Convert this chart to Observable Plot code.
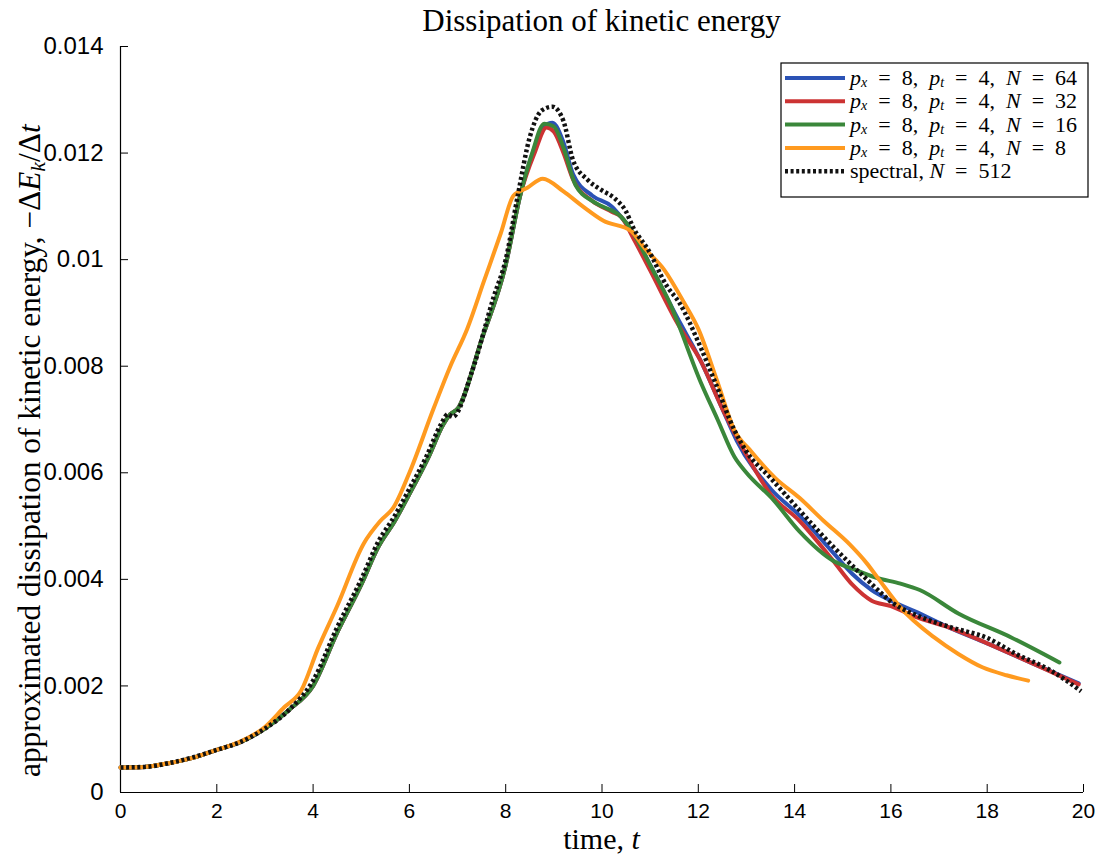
<!DOCTYPE html>
<html><head><meta charset="utf-8">
<script src="https://cdn.jsdelivr.net/npm/d3@7"></script>
<script src="https://cdn.jsdelivr.net/npm/@observablehq/plot@0.6"></script>
<style>body{margin:0;background:#fff} #chart{width:1101px;height:861px}</style>
</head><body><div id="chart"></div>
<script>
// ---- data ----
const xTicks = [0,2,4,6,8,10,12,14,16,18,20];
const yTicks = [0,0.002,0.004,0.006,0.008,0.01,0.012,0.014];
const yTickLabels = ["0","0.002","0.004","0.006","0.008","0.01","0.012","0.014"];

const seriesN = [64, 32, 16, 8];
const seriesColors = ["#2b52b5", "#cc3333", "#3a873a", "#ff9a1f"];
const spectralN = 512;

const t64 = [0,0.5,1,1.5,2,2.5,3,3.5,4,4.5,5,5.35,5.7,6.0,6.4,6.7,6.85,7.0,7.5,8.0,8.3,8.6,8.8,8.97,9.2,9.4,9.8,10.2,10.4,10.65,11.0,11.57,12.05,12.5,12.8,13.5,14.1,14.8,15.2,15.6,16.0,16.5,17.2,18.0,19.0,19.9];
const v64 = [0.00047,0.00048,0.00055,0.00065,0.0008,0.00095,0.0012,0.00155,0.002,0.003,0.0039,0.0046,0.0051,0.0056,0.0063,0.0069,0.0071,0.0072,0.0085,0.0099,0.0112,0.0121,0.0125,0.01257,0.0122,0.0116,0.0112,0.011,0.0108,0.0105,0.0099,0.0089,0.0081,0.0072,0.0066,0.0057,0.0052,0.0045,0.0041,0.0038,0.0036,0.0034,0.0031,0.0028,0.0024,0.00205];

const t32 = [0,0.5,1,1.5,2,2.5,3,3.5,4,4.5,5,5.35,5.7,6.0,6.4,6.7,6.85,7.0,7.5,8.0,8.3,8.6,8.85,9.0,9.2,9.4,9.8,10.2,10.4,10.65,11.0,11.57,12.05,12.5,12.9,13.5,14.1,14.8,15.2,15.6,16.0,16.5,17.2,18.0,19.0,19.9];
const v32 = [0.00047,0.00048,0.00055,0.00065,0.0008,0.00095,0.0012,0.00155,0.002,0.003,0.0039,0.0046,0.0051,0.0056,0.0063,0.0069,0.0071,0.0072,0.0085,0.0099,0.0112,0.012,0.01248,0.0124,0.012,0.0115,0.0111,0.0109,0.0108,0.0104,0.0098,0.0088,0.0081,0.0072,0.0065,0.0056,0.0051,0.00435,0.0039,0.0036,0.0035,0.0033,0.0031,0.0028,0.0024,0.00203];

const t16 = [0,0.5,1,1.5,2,2.5,3,3.5,4,4.5,5,5.35,5.7,6.0,6.4,6.7,6.85,7.0,7.5,8.0,8.3,8.55,8.8,9.0,9.2,9.45,9.8,10.0,10.4,10.65,11.0,11.4,12.05,12.4,12.75,13.0,13.55,14.1,14.8,15.2,15.7,16.2,16.6,17.4,18.5,19.5];
const v16 = [0.00047,0.00048,0.00055,0.00065,0.0008,0.00095,0.0012,0.00155,0.002,0.003,0.0039,0.0046,0.0051,0.0056,0.0063,0.0069,0.0071,0.0072,0.0085,0.0099,0.0112,0.012,0.01255,0.0125,0.0121,0.0114,0.0111,0.011,0.0108,0.0105,0.0099,0.0092,0.0077,0.007,0.0063,0.006,0.0055,0.0049,0.00435,0.0042,0.00403,0.00392,0.0038,0.00336,0.00291,0.00244];

const t8 = [0,0.5,1,1.5,2,2.5,3,3.4,3.75,4.1,4.5,5.05,5.4,5.67,6.0,6.5,6.85,7.2,7.55,7.9,8.16,8.45,8.77,9.2,9.6,10.03,10.6,10.9,11.3,11.7,12.0,12.4,12.75,13.1,13.6,14.1,14.6,15.15,15.5,15.75,16.2,16.9,17.4,17.9,18.4,18.85];
const v8 = [0.00047,0.00048,0.00055,0.00065,0.0008,0.00096,0.00123,0.0016,0.00191,0.0027,0.0035,0.00467,0.0051,0.00535,0.006,0.0072,0.008,0.0087,0.0096,0.0105,0.0112,0.01135,0.01152,0.01128,0.011,0.01073,0.01054,0.0102,0.0098,0.0092,0.0087,0.0077,0.0068,0.0064,0.0059,0.00553,0.0051,0.00465,0.0043,0.004,0.00347,0.00291,0.0026,0.00235,0.0022,0.0021];

const tS = [0,0.5,1,1.5,2,2.5,3,3.5,4,4.5,5,5.35,5.7,6.0,6.35,6.65,6.8,6.9,7.3,7.75,8.0,8.25,8.5,8.75,8.97,9.2,9.4,9.7,10.0,10.25,10.5,10.65,10.95,11.35,11.6,12.05,12.35,12.75,13.0,13.5,14.0,14.5,15.15,15.5,16.05,16.6,17.25,18.0,18.6,19.3,19.95];
const vS = [0.00047,0.00048,0.00055,0.00066,0.0008,0.00095,0.0012,0.00155,0.0021,0.0031,0.004,0.0047,0.0052,0.0057,0.0063,0.0069,0.0071,0.00705,0.0079,0.0093,0.01,0.0112,0.0123,0.0128,0.01287,0.0126,0.01186,0.0115,0.0113,0.01116,0.0109,0.0106,0.0102,0.0095,0.0092,0.00835,0.0077,0.0068,0.0064,0.0059,0.0054,0.0049,0.0043,0.004,0.00355,0.0033,0.0031,0.0029,0.0026,0.0023,0.0019];

// ---- build ----
const toRows = (ts, vs) => ts.map((t, i) => ({t, v: vs[i]}));
const series = [toRows(t64, v64), toRows(t32, v32), toRows(t16, v16), toRows(t8, v8)];
const spectral = toRows(tS, vS);

const W = 1101, H = 861, mL = 120, mR = 18, mT = 46, mB = 69;
const frameW = W - mL - mR, frameH = H - mT - mB;
const tickLen = 8;
const dotted = "3,2.6";

const svg = Plot.plot({
  width: W, height: H,
  marginLeft: mL, marginRight: mR, marginTop: mT, marginBottom: mB,
  style: {fontFamily: "'Liberation Sans', Arial, sans-serif", fontSize: "21px", background: "#fff", color: "#000"},
  x: {domain: [0, 20]},
  y: {domain: [0, 0.014]},
  marks: [
    Plot.axisX({ticks: xTicks, tickSize: 0, tickPadding: 11, label: null, fontSize: 21}),
    Plot.axisY({ticks: yTicks, tickSize: 0, tickPadding: 17, label: null, fontSize: 24,
      tickFormat: d => yTickLabels[yTicks.indexOf(d)]}),
    Plot.ruleX(xTicks, {x: d => d, insetTop: frameH - tickLen, stroke: "#000", strokeWidth: 1}),
    Plot.ruleY(yTicks, {y: d => d, insetRight: frameW - tickLen, stroke: "#000", strokeWidth: 1}),
    Plot.ruleX([0], {stroke: "#000", strokeWidth: 1.2}),
    Plot.ruleY([0], {stroke: "#000", strokeWidth: 1.2}),
    ...series.map((rows, i) => Plot.line(rows, {x: "t", y: "v", stroke: seriesColors[i], strokeWidth: 4, curve: "monotone-x"})),
    Plot.line(spectral, {x: "t", y: "v", stroke: "#111", strokeWidth: 4.5, strokeDasharray: dotted, strokeLinecap: "butt", curve: "monotone-x"})
  ]
});
document.getElementById("chart").appendChild(svg);

const s = d3.select(svg);
const serif = "'Liberation Serif', 'Times New Roman', serif";

// title
s.append("text").attr("x", mL + frameW / 2).attr("y", 31).attr("text-anchor", "middle")
  .attr("font-family", serif).attr("font-size", 31).attr("fill", "#000")
  .text("Dissipation of kinetic energy");

// x label
const xl = s.append("text").attr("x", mL + frameW / 2).attr("y", 849).attr("text-anchor", "middle")
  .attr("font-family", serif).attr("font-size", 30).attr("fill", "#000");
xl.append("tspan").text("time, ");
xl.append("tspan").attr("font-style", "italic").text("t");

// y label
const yl = s.append("text").attr("transform", `translate(40, 777) rotate(-90)`)
  .attr("text-anchor", "start").attr("font-family", serif).attr("font-size", 31.3).attr("fill", "#000");
yl.append("tspan").text("approximated dissipation of kinetic energy, −Δ");
yl.append("tspan").attr("font-style", "italic").text("E");
yl.append("tspan").attr("font-style", "italic").attr("font-size", 22).attr("dy", 5).text("k");
yl.append("tspan").attr("dy", -5).text("/Δ");
yl.append("tspan").attr("font-style", "italic").text("t");

// legend
const lg = s.append("g");
const lx = 781, ly = 63, lw = 307, lh = 134, rowH = 23.3;
const eq = "\u2002=\u2002";
lg.append("rect").attr("x", lx).attr("y", ly).attr("width", lw).attr("height", lh)
  .attr("fill", "#fff").attr("stroke", "#000").attr("stroke-width", 1.2);
const rows = seriesN.map((n, i) => ({n, color: seriesColors[i], dashed: false})).concat([{n: spectralN, color: "#111", dashed: true}]);
rows.forEach((r, i) => {
  const cy = ly + 15 + i * rowH;
  lg.append("line").attr("x1", lx + 4).attr("x2", lx + 64).attr("y1", cy).attr("y2", cy)
    .attr("stroke", r.color).attr("stroke-width", r.dashed ? 4.5 : 4)
    .attr("stroke-linecap", "butt")
    .attr("stroke-dasharray", r.dashed ? dotted : null);
  const t = lg.append("text").attr("x", lx + 69).attr("y", cy + 7).attr("text-anchor", "start")
    .attr("font-family", serif).attr("font-size", 22).attr("fill", "#000");
  if (r.dashed) {
    t.append("tspan").text("spectral, ");
    t.append("tspan").attr("font-style", "italic").text("N");
    t.append("tspan").text(eq + r.n);
  } else {
    t.append("tspan").attr("font-style", "italic").text("p");
    t.append("tspan").attr("font-style", "italic").attr("font-size", 14).attr("dy", 2).text("x");
    t.append("tspan").attr("dy", -2).text(eq + "8,\u2002");
    t.append("tspan").attr("font-style", "italic").text("p");
    t.append("tspan").attr("font-style", "italic").attr("font-size", 14).attr("dy", 2).text("t");
    t.append("tspan").attr("dy", -2).text(eq + "4,\u2002");
    t.append("tspan").attr("font-style", "italic").text("N");
    t.append("tspan").text(eq + r.n);
  }
});
</script>
</body></html>
